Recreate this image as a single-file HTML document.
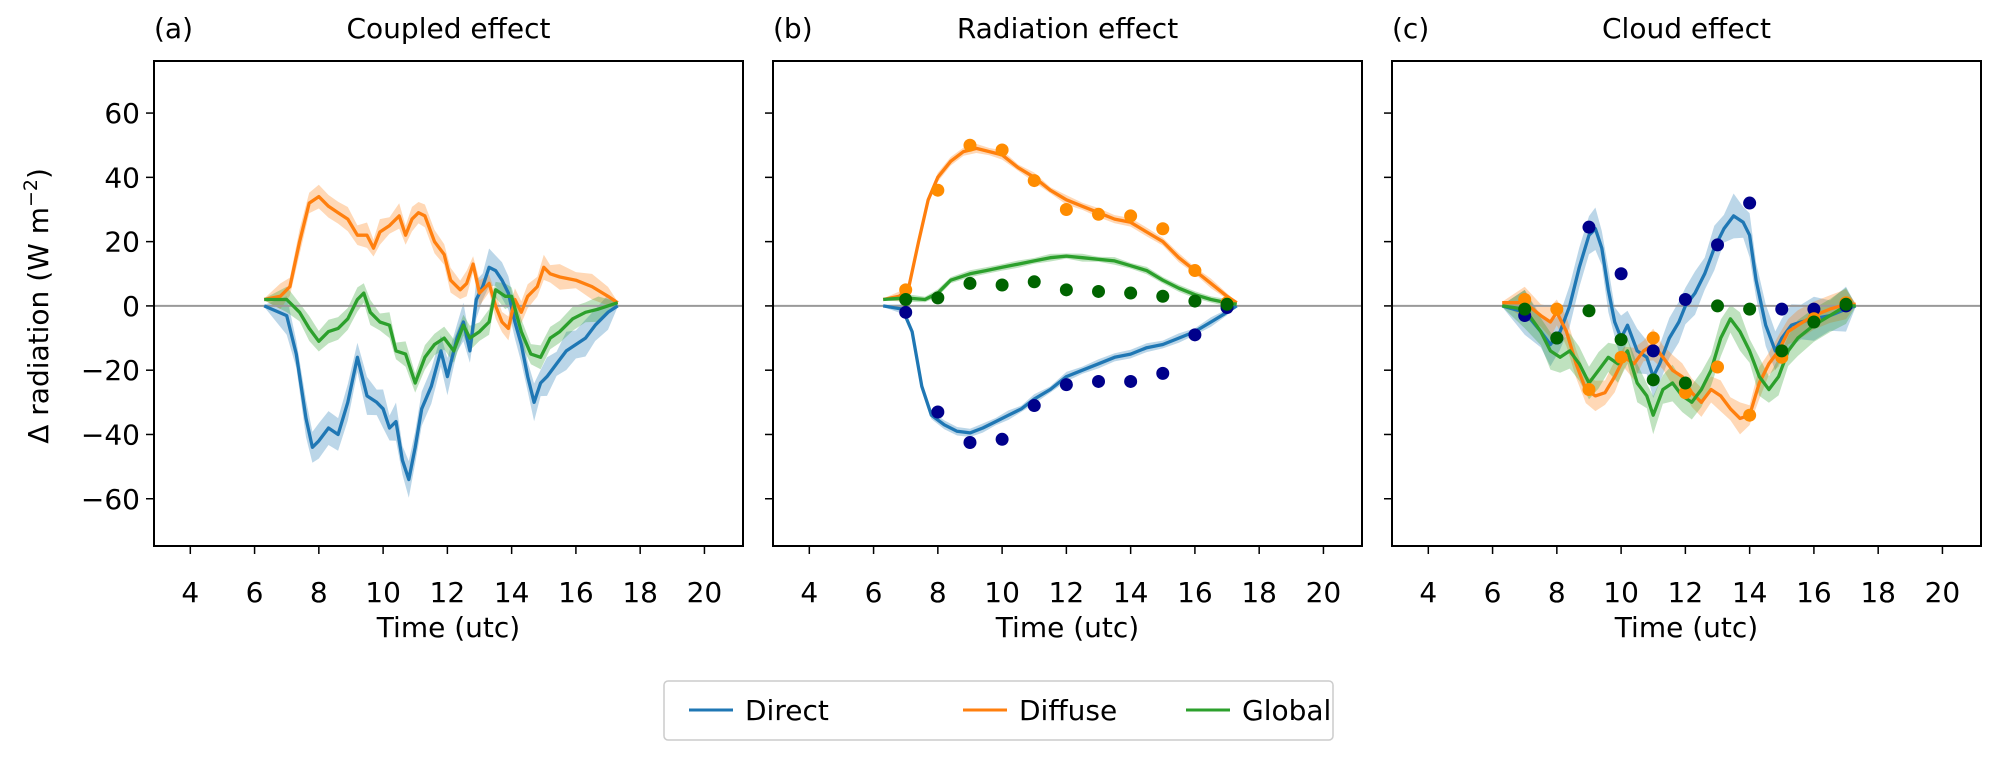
<!DOCTYPE html>
<html><head><meta charset="utf-8"><style>
html,body{margin:0;padding:0;background:#fff;}
svg{display:block;font-family:"DejaVu Sans","Liberation Sans",sans-serif;}
</style></head><body>
<svg id="chart" width="2002" height="758" xmlns="http://www.w3.org/2000/svg"></svg>
<script>
const xTicks=[4,6,8,10,12,14,16,18,20];
const yTicks=[-60,-40,-20,0,20,40,60];
const yTickLabels=["\u221260","\u221240","\u221220","0","20","40","60"];
const panelTitles=["Coupled effect","Radiation effect","Cloud effect"];
const panelLetters=["(a)","(b)","(c)"];
const seriesNames=["Direct","Diffuse","Global"];
// panel a
const aDirT=[6.3,7.0,7.3,7.6,7.8,8.0,8.3,8.6,8.9,9.2,9.5,9.8,10.0,10.2,10.4,10.6,10.8,11.0,11.2,11.5,11.8,12.0,12.3,12.5,12.7,12.9,13.1,13.3,13.5,13.7,13.9,14.1,14.3,14.5,14.7,14.9,15.1,15.4,15.7,16.0,16.3,16.6,17.0,17.3];
const aDirV=[0,-3,-15,-35,-44,-42,-38,-40,-30,-16,-28,-30,-32,-38,-36,-48,-54,-44,-32,-25,-14,-22,-10,-5,-14,2,6,12,11,8,4,-5,-12,-22,-30,-24,-22,-18,-14,-12,-10,-6,-2,0];
const aDifT=[6.3,6.8,7.1,7.4,7.7,8.0,8.3,8.6,8.9,9.2,9.5,9.7,9.9,10.2,10.5,10.7,10.9,11.1,11.3,11.6,11.9,12.1,12.4,12.6,12.8,13.0,13.3,13.5,13.7,13.9,14.1,14.3,14.5,14.8,15.0,15.2,15.5,16.0,16.5,17.0,17.3];
const aDifV=[2,3,6,20,32,34,31,29,27,22,22,18,23,25,28,22,27,29,28,20,16,8,5,7,13,4,7,0,-5,-7,2,-2,3,6,12,10,9,8,6,3,1];
const aGloT=[6.3,7.0,7.4,7.7,8.0,8.3,8.6,8.9,9.2,9.4,9.6,9.9,10.2,10.4,10.7,11.0,11.3,11.6,11.9,12.2,12.5,12.7,13.0,13.3,13.5,13.8,14.0,14.3,14.6,14.9,15.2,15.5,15.9,16.3,16.7,17.3];
const aGloV=[2,2,-2,-7,-11,-8,-7,-4,2,4,-2,-5,-6,-14,-15,-24,-16,-12,-10,-14,-6,-10,-8,-5,5,3,3,-8,-15,-16,-10,-8,-4,-2,-1,1];
const aSpread=[6,4,4];
// panel b
const bDirT=[6.3,6.9,7.2,7.5,7.8,8.2,8.6,9.0,9.4,9.8,10.2,10.6,11.0,11.5,12.0,12.5,13.0,13.5,14.0,14.5,15.0,15.5,16.0,16.5,17.0,17.3];
const bDirV=[0,-1,-8,-25,-34,-37,-39,-39.5,-38,-36,-34,-32,-29,-26,-22,-20,-18,-16,-15,-13,-12,-10,-8,-5,-2,0];
const bDifT=[6.3,6.8,7.1,7.4,7.7,8.0,8.4,8.8,9.2,9.6,10.0,10.5,11.0,11.5,12.0,12.5,13.0,13.5,14.0,14.5,15.0,15.5,16.0,16.5,17.0,17.3];
const bDifV=[2,3,6,20,33,40,45,48,49,48,47,43,40,36,33,31,29,27,26,23,20,15,11,7,3,1];
const bGloT=[6.3,7.0,7.6,8.0,8.4,9.0,9.5,10.0,10.5,11.0,11.5,12.0,12.5,13.0,13.5,14.0,14.5,15.0,15.5,16.0,16.5,17.0,17.3];
const bGloV=[2,2.5,2,4,8,10,11,12,13,14,15,15.5,15,14.5,14,12.5,11,8,5.5,3.5,2,1,0.5];
const bSpread=[1.5,1.5,1.2];
const dotHours=[7,8,9,10,11,12,13,14,15,16,17];
const bDirDots=[-2,-33,-42.5,-41.5,-31,-24.5,-23.5,-23.5,-21,-9,-0.5];
const bDifDots=[5,36,50,48.5,39,30,28.5,28,24,11,1];
const bGloDots=[2,2.5,7,6.5,7.5,5,4.5,4,3,1.5,0.5];
// panel c
const cDirT=[6.3,7.0,7.5,7.8,8.1,8.4,8.7,9.0,9.2,9.4,9.6,9.8,10.0,10.2,10.5,10.8,11.0,11.2,11.5,11.8,12.0,12.3,12.6,12.9,13.2,13.5,13.8,14.0,14.2,14.5,14.8,15.0,15.3,15.6,16.0,16.5,17.0,17.3];
const cDirV=[0,-2,-8,-12,-8,0,12,22,24,18,5,-5,-10,-6,-14,-16,-22,-18,-10,-5,0,4,10,18,24,28,26,22,8,-6,-14,-10,-6,-5,-4,-3,-1,0];
const cDifT=[6.3,7.0,7.5,7.8,8.0,8.3,8.6,8.9,9.2,9.5,9.8,10.1,10.4,10.7,11.0,11.3,11.6,11.9,12.2,12.5,12.8,13.1,13.4,13.7,14.0,14.3,14.6,14.9,15.2,15.5,16.0,16.5,17.0,17.3];
const cDifV=[1,1,-3,-5,-2,-8,-18,-26,-28,-27,-22,-16,-18,-14,-12,-16,-20,-22,-27,-30,-26,-28,-32,-35,-34,-24,-18,-14,-8,-6,-3,-1,0.5,0.5];
const cGloT=[6.3,7.0,7.5,7.8,8.1,8.4,8.7,9.0,9.3,9.6,9.9,10.2,10.5,10.8,11.0,11.3,11.6,11.9,12.2,12.5,12.8,13.1,13.4,13.7,14.0,14.3,14.6,14.9,15.2,15.5,16.0,16.5,17.0,17.3];
const cGloV=[0,-1,-8,-14,-16,-14,-18,-24,-20,-16,-18,-14,-24,-28,-34,-26,-24,-28,-30,-26,-20,-10,-4,-8,-14,-22,-26,-22,-14,-10,-6,-3,0,0];
const cSpread=[7,5,6];
const cDirDots=[-3,-10,24.5,10,-14,2,19,32,-1,-1,0];
const cDifDots=[2,-1,-26,-16,-10,-27,-19,-34,-16,-4,1];
const cGloDots=[-1,-10,-1.5,-10.5,-23,-24,0,-1,-14,-5,0.5];

const lineColors=["#1f77b4","#ff7f0e","#2ca02c"];
const dotColors=["#00008b","#ff8c00","#006400"];
const panelLefts=[154,773,1392];
const PW=589, PT=61, PB=546;
const X0=2.87,X1=21.2, Y0=-74.7,Y1=76.2;
const FS=28;
const svg=document.getElementById('chart');
const NS="http://www.w3.org/2000/svg";
function mk(tag,attrs,parent){const e=document.createElementNS(NS,tag);for(const k in attrs)e.setAttribute(k,attrs[k]);(parent||svg).appendChild(e);return e;}
function xs(p,v){return panelLefts[p]+(v-X0)/(X1-X0)*PW;}
function ys(v){return PB-(v-Y0)/(Y1-Y0)*(PB-PT);}

const panels=[
 {lines:[[aDirT,aDirV],[aDifT,aDifV],[aGloT,aGloV]],spread:aSpread,dots:null},
 {lines:[[bDirT,bDirV],[bDifT,bDifV],[bGloT,bGloV]],spread:bSpread,dots:[bDirDots,bDifDots,bGloDots]},
 {lines:[[cDirT,cDirV],[cDifT,cDifV],[cGloT,cGloV]],spread:cSpread,dots:[cDirDots,cDifDots,cGloDots]}
];
panels.forEach((pd,p)=>{
  const g=mk('g',{});
  
  
  const L=panelLefts[p];
  pd.lines.forEach((ln,s)=>{
    const [t,v]=ln;let up='',dn='';
    t.forEach((tt,i)=>{const w=(i===0||i===t.length-1)?0.3:pd.spread[s]*(0.6+0.4*Math.abs(Math.sin(i*1.7)));up+=(i?'L':'M')+xs(p,tt).toFixed(1)+','+ys(v[i]+w).toFixed(1);});
    for(let i=t.length-1;i>=0;i--){const w=(i===0||i===t.length-1)?0.3:pd.spread[s]*(0.6+0.4*Math.abs(Math.sin(i*1.7)));dn+='L'+xs(p,t[i]).toFixed(1)+','+ys(v[i]-w).toFixed(1);}
    const b=mk('path',{d:up+dn+'Z',fill:lineColors[s],'fill-opacity':0.3,stroke:'none'},g);
    
    
  });
  const z=mk('line',{x1:L,x2:L+PW,y1:ys(0),y2:ys(0),stroke:'#999',"stroke-width":2},g);
  
  
  pd.lines.forEach((ln,s)=>{
    const [t,v]=ln;const d=t.map((tt,i)=>(i?'L':'M')+xs(p,tt).toFixed(1)+','+ys(v[i]).toFixed(1)).join('');
    const l=mk('path',{d:d,fill:'none',stroke:lineColors[s],'stroke-width':3.3,'stroke-linejoin':'round'},g);
    
    
  });
  if(pd.dots){pd.dots.forEach((arr,s)=>{arr.forEach((v,i)=>{
    const c=mk('circle',{cx:xs(p,dotHours[i]),cy:ys(v),r:6.5,fill:dotColors[s]},g);
    
    
  });});}
  const fr=mk('rect',{x:L,y:PT,width:PW,height:PB-PT,fill:'none',stroke:'#000','stroke-width':2},g);
  
  
  xTicks.forEach(t=>{
    mk('line',{x1:xs(p,t),x2:xs(p,t),y1:PB,y2:PB+8,stroke:'#000','stroke-width':1.5},g);
    const tx=mk('text',{x:xs(p,t),y:PB+56,'font-size':FS,'text-anchor':'middle'},g);tx.textContent=t;
    
    
  });
  yTicks.forEach((t,i)=>{
    mk('line',{x1:L-8,x2:L,y1:ys(t),y2:ys(t),stroke:'#000','stroke-width':1.5},g);
    if(p===0){const tx=mk('text',{x:L-14,y:ys(t)+10,'font-size':FS,'text-anchor':'end'},g);tx.textContent=yTickLabels[i];
      
      }
  });
  const xl=mk('text',{x:L+PW/2,y:637,'font-size':FS,'text-anchor':'middle'},g);xl.textContent='Time (utc)';
  
  
  const tl=mk('text',{x:L+PW/2,y:38,'font-size':FS,'text-anchor':'middle'},g);tl.textContent=panelTitles[p];
  
  
  const lt=mk('text',{x:L,y:38,'font-size':FS},g);lt.textContent=panelLetters[p];
  
  
});
const yl=mk('text',{x:0,y:0,'font-size':FS,'text-anchor':'middle',transform:'translate(48,'+ys(0)+') rotate(-90)'});
yl.innerHTML='\u0394 radiation (W m<tspan dy="-11" font-size="19">\u22122</tspan><tspan dy="11">)</tspan>';


const lg=mk('g',{});


mk('rect',{x:664,y:681,width:669,height:59,rx:4,fill:'#fff',stroke:'#ccc','stroke-width':1.5},lg);
const lx=[689,963,1186];
seriesNames.forEach((n,i)=>{
  const e=mk('g',{},lg);
  
  
  mk('line',{x1:lx[i],x2:lx[i]+44,y1:710,y2:710,stroke:lineColors[i],'stroke-width':3},e);
  const t=mk('text',{x:lx[i]+56,y:720,'font-size':FS},e);t.textContent=n;
});
</script>
</body></html>
